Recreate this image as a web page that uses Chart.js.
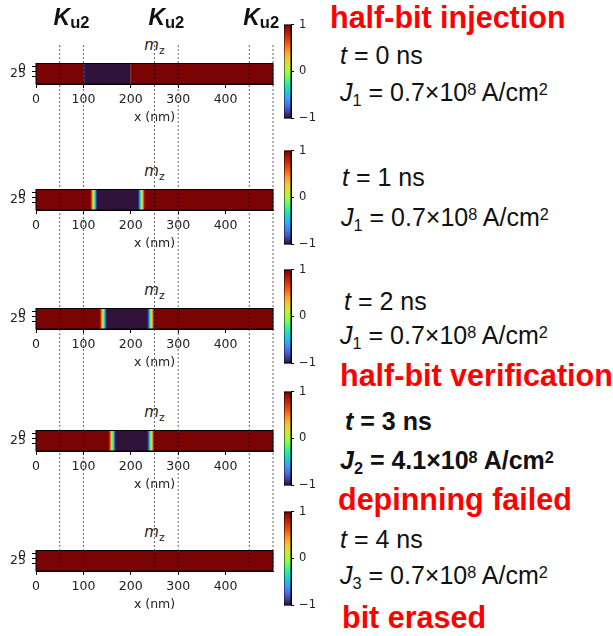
<!DOCTYPE html>
<html>
<head>
<meta charset="utf-8">
<script src="https://cdn.jsdelivr.net/npm/chart.js@4.4.0/dist/chart.umd.min.js"></script>
<style>
  html, body { margin: 0; padding: 0; background: #fff; }
  #wrap { position: relative; width: 613px; height: 636px; overflow: hidden; }
  #wrap canvas { position: absolute; }
  .txt { position: absolute; white-space: nowrap; line-height: 1; font-family: 'Liberation Sans', Arial, sans-serif; color: #111; }
  .sb { font-size: 0.65em; position: relative; top: 0.31em; }
  .sp { font-size: 0.65em; position: relative; top: -0.36em; }
  .mz { position: absolute; white-space: nowrap; line-height: 1; font-family: 'DejaVu Sans', sans-serif; font-size: 15px; color: #222; transform: translateX(-50%); }
  .ku { position: absolute; white-space: nowrap; line-height: 1; font-family: 'Liberation Sans', Arial, sans-serif; font-weight: bold; color: #111; transform: translateX(-50%); }
</style>
</head>
<body>
<div id="wrap"></div>
<script>
// ---- data ----
const xTicks = [0, 100, 200, 300, 400];
const yTicks = [0, 25];
const cbarTicks = [-1, 0, 1];
const kBounds = [50, 100, 250, 300, 450, 500];   // dashed lines around the K_u2 regions (nm)
const kCenters = [75, 275, 475];                 // K_u2 labels (nm)

// m_z along the strip: cell edges (nm) and m_z of each cell
const edgesT0 = [0, 100, 101, 199, 200, 500];
const mzT0    = [1, -0.6, -1, 0.5, 1];

const edgesT1 = [0, 114, 116, 118, 120, 122, 124, 126, 128, 215, 217, 219, 221, 223, 225, 227, 229, 500];
const mzT1    = [1, 0.9, 0.6, 0.3, 0, -0.3, -0.6, -0.9, -1, -0.9, -0.6, -0.3, 0, 0.3, 0.6, 0.9, 1];

const edgesT2 = [0, 134, 136, 138, 140, 142, 144, 146, 148, 235, 237, 239, 241, 243, 245, 247, 249, 500];
const mzT2    = [1, 0.9, 0.6, 0.3, 0, -0.3, -0.6, -0.9, -1, -0.9, -0.6, -0.3, 0, 0.3, 0.6, 0.9, 1];

const edgesT3 = [0, 153, 155, 157, 159, 161, 163, 165, 167, 235, 237, 239, 241, 243, 245, 247, 249, 500];
const mzT3    = [1, 0.9, 0.6, 0.3, 0, -0.3, -0.6, -0.9, -1, -0.9, -0.6, -0.3, 0, 0.3, 0.6, 0.9, 1];

const edgesT4 = [0, 500];
const mzT4    = [1];

// turbo colormap stops
const turboStops = ['#30123b', '#4145ab', '#4675ed', '#39a2fc', '#1bcfd4', '#24eca6', '#61fc6c', '#a4fc3b',
                    '#d1e834', '#f3c63a', '#fe9b2d', '#f36315', '#d93806', '#b11901', '#7a0403'];

function hexToRgb(h) {
    return [parseInt(h.slice(1, 3), 16), parseInt(h.slice(3, 5), 16), parseInt(h.slice(5, 7), 16)];
}

function turbo(t) {
    t = Math.min(1, Math.max(0, t));
    const p = t * (turboStops.length - 1);
    const i = Math.min(Math.floor(p), turboStops.length - 2);
    const f = p - i;
    const a = hexToRgb(turboStops[i]), b = hexToRgb(turboStops[i + 1]);
    const c = a.map((v, k) => Math.round(v + (b[k] - v) * f));
    return `rgb(${c[0]},${c[1]},${c[2]})`;
}

Chart.defaults.font.family = "'DejaVu Sans', sans-serif";
Chart.defaults.color = '#222';

// black frame round the plot area
const frame = {
    id: 'frame',
    afterDraw(chart) {
        const { ctx, chartArea: a } = chart;
        ctx.save();
        ctx.strokeStyle = '#000';
        ctx.lineWidth = 1;
        ctx.strokeRect(a.left, a.top, a.right - a.left, a.bottom - a.top);
        ctx.restore();
    }
};

const wrap = document.getElementById('wrap');

function addCanvas(left, top, w, h, z) {
    const c = document.createElement('canvas');
    c.width = w; c.height = h;
    c.style.left = left + 'px';
    c.style.top = top + 'px';
    c.style.zIndex = z || 1;
    wrap.appendChild(c);
    return c;
}

function stripData(edges, mz) {
    return mz.map((v, i) => ({
        data: [[edges[i], edges[i + 1]]],
        backgroundColor: turbo((v + 1) / 2),
        grouped: false,
        barPercentage: 1,
        categoryPercentage: 1,
        borderWidth: 0
    }));
}

function makeStrip(canvas, edges, mz) {
    return new Chart(canvas, {
        type: 'bar',
        data: { labels: ['mz'], datasets: stripData(edges, mz) },
        options: {
            indexAxis: 'y',
            animation: false,
            responsive: false,
            devicePixelRatio: 1,
            layout: { padding: { top: 10, right: 27, left: 0, bottom: 0 } },
            plugins: { legend: { display: false }, tooltip: { enabled: false } },
            scales: {
                x: {
                    type: 'linear', min: 0, max: 500,
                    afterBuildTicks: s => { s.ticks = xTicks.map(v => ({ value: v })); },
                    afterFit: s => { s.height = 41; },
                    grid: { drawOnChartArea: false, tickLength: 4, color: '#000' },
                    border: { color: '#000', width: 1 },
                    ticks: { padding: 4, font: { size: 12.5 }, maxRotation: 0, autoSkip: false },
                    title: { display: true, text: 'x (nm)', font: { size: 12.5 }, padding: 0 }
                },
                y: { type: 'category', display: false },
                y2: {
                    type: 'linear', position: 'left', min: 0, max: 50, reverse: true,
                    afterBuildTicks: s => { s.ticks = yTicks.map(v => ({ value: v })); },
                    afterFit: s => { s.width = 36; },
                    grid: { drawOnChartArea: false, tickLength: 4, color: '#000' },
                    border: { color: '#000', width: 1 },
                    ticks: { padding: 6, font: { size: 12.5 }, autoSkip: false }
                }
            }
        },
        plugins: [frame]
    });
}

function cbarFill(context) {
    const chart = context.chart;
    const a = chart.chartArea;
    if (!a) return null;
    const g = chart.ctx.createLinearGradient(0, a.bottom, 0, a.top);
    turboStops.forEach((c, i) => g.addColorStop(i / (turboStops.length - 1), c));
    return g;
}

function makeCbar(canvas) {
    return new Chart(canvas, {
        type: 'bar',
        data: {
            labels: ['c'],
            datasets: [{ data: [[-1, 1]], backgroundColor: cbarFill, barPercentage: 1, categoryPercentage: 1, borderWidth: 0 }]
        },
        options: {
            animation: false,
            responsive: false,
            devicePixelRatio: 1,
            layout: { padding: { top: 8, bottom: 8, left: 0, right: 0 } },
            plugins: { legend: { display: false }, tooltip: { enabled: false } },
            scales: {
                x: { display: false },
                y: {
                    position: 'right', min: -1, max: 1,
                    afterBuildTicks: s => { s.ticks = cbarTicks.map(v => ({ value: v })); },
                    afterFit: s => { s.width = 33; },
                    grid: { drawOnChartArea: false, tickLength: 3, color: '#000' },
                    border: { color: '#000', width: 1 },
                    ticks: {
                        padding: 5, font: { size: 11.5 }, autoSkip: false,
                        callback: v => v < 0 ? '\u2212' + Math.abs(v) : String(v)
                    }
                }
            }
        },
        plugins: [frame]
    });
}

// strip tops on the page
const panelTops = [60, 186, 305, 427, 547];
const panels = [[edgesT0, mzT0], [edgesT1, mzT1], [edgesT2, mzT2], [edgesT3, mzT3], [edgesT4, mzT4]];

panels.forEach((p, i) => {
    const T = panelTops[i];
    const chart = makeStrip(addCanvas(0, T - 10, 300, 75, 1), p[0], p[1]);
    makeCbar(addCanvas(284, T - 39 - 8, 40, 117, 1));

    // m_z title
    const a = chart.chartArea;
    const t = document.createElement('div');
    t.className = 'mz';
    t.innerHTML = '<i>m</i><span style="font-size:0.72em;position:relative;top:0.3em">z</span>';
    t.style.left = ((a.left + a.right) / 2) + 'px';
    t.style.top = (T - 9 - 0.846 * 15) + 'px';
    wrap.appendChild(t);
});

// dashed lines over all panels
const overlay = new Chart(addCanvas(0, 0, 613, 636, 5), {
    type: 'scatter',
    data: {
        datasets: kBounds.map(v => ({
            data: [{ x: v, y: 0 }, { x: v, y: 1 }],
            showLine: true,
            borderColor: 'rgba(0,0,0,0.6)',
            borderWidth: 1,
            borderDash: [2, 2],
            pointRadius: 0,
            clip: false
        }))
    },
    options: {
        animation: false,
        responsive: false,
        devicePixelRatio: 1,
        layout: { padding: { left: 36, right: 340, top: 45, bottom: 69 } },
        plugins: { legend: { display: false }, tooltip: { enabled: false } },
        scales: {
            x: { type: 'linear', min: 0, max: 500, display: false },
            y: { type: 'linear', min: 0, max: 1, display: false }
        }
    }
});

// K_u2 labels
kCenters.forEach(c => {
    const d = document.createElement('div');
    d.className = 'ku';
    d.style.fontSize = '23px';
    d.innerHTML = '<i>K</i><span style="font-size:0.72em;position:relative;top:0.2em">u2</span>';
    d.style.left = overlay.scales.x.getPixelForValue(c) + 'px';
    d.style.top = (25 - 0.846 * 23) + 'px';
    d.style.zIndex = 6;
    wrap.appendChild(d);
});

// notes on the right
const J = (n, v) => `<i>J</i><span class="sb">${n}</span> = ${v}×10<span class="sp">8</span> A/cm<span class="sp">2</span>`;
const notes = [
    { html: 'half-bit injection', x: 330, base: 28, size: 30.5, bold: true, red: true },
    { html: '<i>t</i> = 0 ns', x: 340, base: 64, size: 25 },
    { html: J('1', '0.7'), x: 340, base: 101, size: 25 },
    { html: '<i>t</i> = 1 ns', x: 342, base: 186, size: 25 },
    { html: J('1', '0.7'), x: 341, base: 226, size: 25 },
    { html: '<i>t</i> = 2 ns', x: 344, base: 310, size: 25 },
    { html: J('1', '0.7'), x: 340, base: 344, size: 25 },
    { html: 'half-bit verification', x: 340, base: 386, size: 30.5, bold: true, red: true },
    { html: '<i>t</i> = 3 ns', x: 345, base: 430, size: 25, bold: true },
    { html: J('2', '4.1'), x: 340, base: 469, size: 25, bold: true },
    { html: 'depinning failed', x: 338, base: 510, size: 30.5, bold: true, red: true },
    { html: '<i>t</i> = 4 ns', x: 340, base: 548, size: 25 },
    { html: J('3', '0.7'), x: 340, base: 584, size: 25 },
    { html: 'bit erased', x: 342, base: 628, size: 30.5, bold: true, red: true }
];

notes.forEach(n => {
    const d = document.createElement('div');
    d.className = 'txt';
    d.innerHTML = n.html;
    d.style.fontSize = n.size + 'px';
    d.style.left = n.x + 'px';
    d.style.top = (n.base - 0.846 * n.size) + 'px';
    if (n.bold) d.style.fontWeight = 'bold';
    if (n.red) d.style.color = '#ff0000';
    wrap.appendChild(d);
});
</script>
</body>
</html>
